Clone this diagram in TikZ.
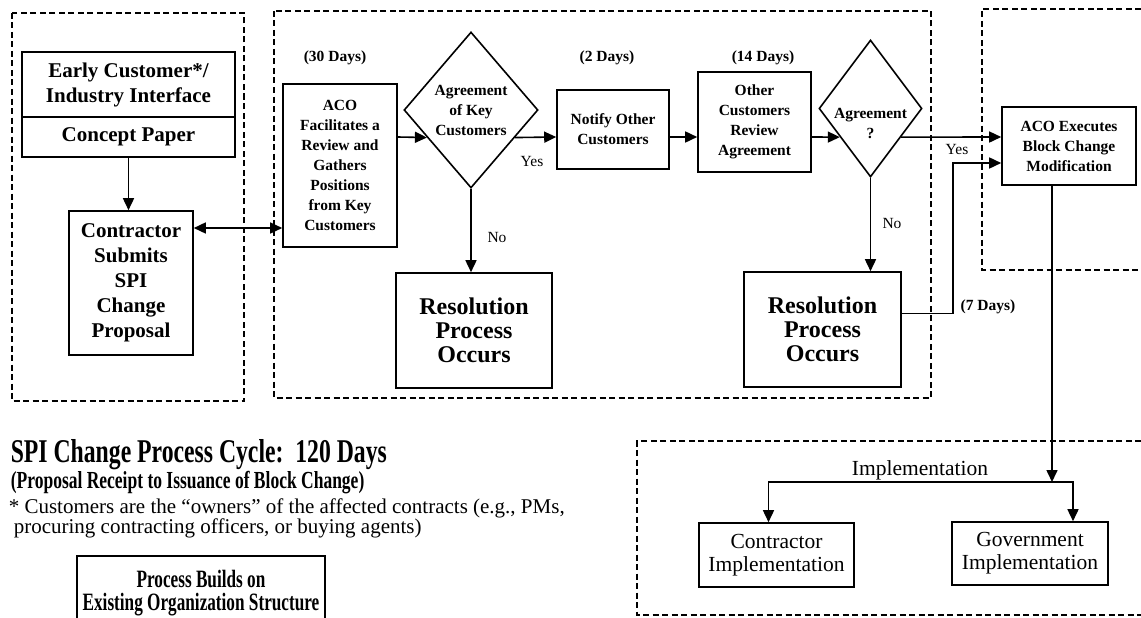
\documentclass[tikz,border=0pt]{standalone}
\usepackage{fontspec}
\setmainfont{Liberation Serif}
\usetikzlibrary{shapes.geometric, arrows.meta}

\begin{document}
\begin{tikzpicture}[x=1pt, y=-1pt, line width=1.6pt, >={Triangle[length=12pt,width=11pt]},
    group/.style={line width=1.3pt, dash pattern=on 6pt off 3.5pt},
    box/.style={draw, align=center, inner sep=1pt},
    hbig/.style={font=\bfseries\fontsize{21}{25}\selectfont},
    hsmall/.style={font=\bfseries\fontsize{15.5}{20}\selectfont},
    hres/.style={font=\bfseries\fontsize{24}{24}\selectfont},
    lbl/.style={font=\fontsize{15.5}{18}\selectfont},
    plain/.style={font=\fontsize{21.5}{23}\selectfont},
    decision/.style={draw, diamond, inner sep=0pt, align=center}]
    \useasboundingbox (0,0) rectangle (1141,618);
    \clip (0,0) rectangle (1141,618);

    % dashed groups
    \draw[group] (12,13) rectangle (244,401);
    \draw[group] (274,11) rectangle (931,398);
    \draw[group] (1141,9) -| (982,270) -- (1141,270);
    \draw[group] (1141,441) -| (637,615) -- (1141,615);

    \coordinate (row)  at (0,137);
    \coordinate (link) at (0,228);
    \coordinate (fork) at (1052,482);

    % proposal
    \node[box, hbig, minimum width=213pt, minimum height=65pt]  (early)      at (128.5,84.5) {Early Customer*/\\Industry Interface};
    \node[box, hbig, minimum width=213pt, minimum height=40pt]  (concept)    at (128.5,137)  {Concept Paper};
    \node[box, hbig, minimum width=124pt, minimum height=144pt] (contractor) at (131,283)    {Contractor\\Submits\\SPI\\Change\\Proposal};

    % review
    \node[box, hsmall, minimum width=114pt, minimum height=163pt] (aco)    at (340,165.5) {ACO\\Facilitates a\\Review and\\Gathers\\Positions\\from Key\\Customers};
    \node[decision, hsmall, minimum width=134pt, minimum height=156pt, shape aspect=0.86] (d1) at (471,110) {Agreement\\of Key\\Customers};
    \node[box, hres, minimum width=156pt, minimum height=115pt]   (res1)   at (474,330.5) {Resolution\\Process\\Occurs};
    \node[box, hsmall, minimum width=112pt, minimum height=79pt]  (notify) at (613,129.5) {Notify Other\\Customers};
    \node[box, hsmall, minimum width=113pt, minimum height=100pt] (other)  at (754.5,122) {Other\\Customers\\Review\\Agreement};
    \node[decision, minimum width=103pt, minimum height=137pt]    (d2)     at (870.5,108.5) {};
    \node[hsmall, align=center]                                   (d2txt)  at (870.5,123) {Agreement\\?};
    \node[box, hres, minimum width=157pt, minimum height=115pt]   (res2)   at (822.5,329.5) {Resolution\\Process\\Occurs};

    % execution
    \node[box, hsmall, minimum width=134pt, minimum height=78pt] (aco2)  at (1069,146)    {ACO Executes\\Block Change\\Modification};
    \node[box, plain, minimum width=155pt, minimum height=64pt]  (cimpl) at (776.5,555)   {Contractor\\Implementation};
    \node[box, plain, minimum width=156pt, minimum height=63pt]  (gimpl) at (1030,553.5)  {Government\\Implementation};
    \node[plain]                                                 (impl)  at (920,470)     {Implementation};

    % durations and answers
    \node[hsmall] (days30) at (335,58)  {(30 Days)};
    \node[hsmall] (days2)  at (607,58)  {(2 Days)};
    \node[hsmall] (days14) at (763,58)  {(14 Days)};
    \node[hsmall] (days7)  at (988,307) {(7 Days)};
    \node[lbl]    (yes1)   at (532,162) {Yes};
    \node[lbl]    (no1)    at (497,237) {No};
    \node[lbl]    (yes2)   at (957,150) {Yes};
    \node[lbl]    (no2)    at (892,224) {No};

    % legend (condensed type, so stretched upright)
    \node[anchor=west, inner sep=0pt, font=\bfseries\fontsize{23.7}{26}\selectfont] (title) at (10,455)
        {\scalebox{1}[1.4]{SPI Change Process Cycle:\ \ 120 Days}};
    \node[anchor=west, inner sep=0pt, font=\bfseries\fontsize{17.5}{20}\selectfont] (range) at (10,483)
        {\scalebox{1}[1.4]{(Proposal Receipt to Issuance of Block Change)}};
    \node[anchor=west, inner sep=0pt, align=left, font=\fontsize{21}{19}\selectfont] (note) at (8,518.5)
        {* Customers are the ``owners'' of the affected contracts (e.g., PMs,\\\hspace*{5pt}procuring contracting officers, or buying agents)};
    \node[box, font=\bfseries\fontsize{17.2}{13.2}\selectfont, minimum width=248pt, minimum height=74pt] (builds) at (201,593)
        {\scalebox{1}[1.45]{\begin{tabular}{@{}c@{}}Process Builds on\\Existing Organization Structure\end{tabular}}};

    \path[->]
        (concept)               edge (concept |- contractor.north)
        (aco.east |- row)       edge (d1.212)
        (d1.328)                edge (notify.west |- row)
        (d1.south)              edge (d1.south |- res1.north)
        (notify.east |- row)    edge (other.west |- row)
        (other.east |- row)     edge (d2.223)
        (d2.317)                edge (aco2.west |- row)
        (d2.south)              edge (d2.south |- res2.north)
        ([xshift=-17pt]aco2.south) edge (fork);
    \draw[<->] (contractor.east |- link) -- (aco.west |- link);
    \draw[->] ([yshift=16pt]res2.east) -- ++(51,0) |- ([yshift=-17pt]aco2.west);
    \draw[->] (fork) -| ([xshift=-8pt]cimpl.north);
    \draw[->] (fork) -| ([xshift=43pt]gimpl.north);
\end{tikzpicture}
\end{document}
